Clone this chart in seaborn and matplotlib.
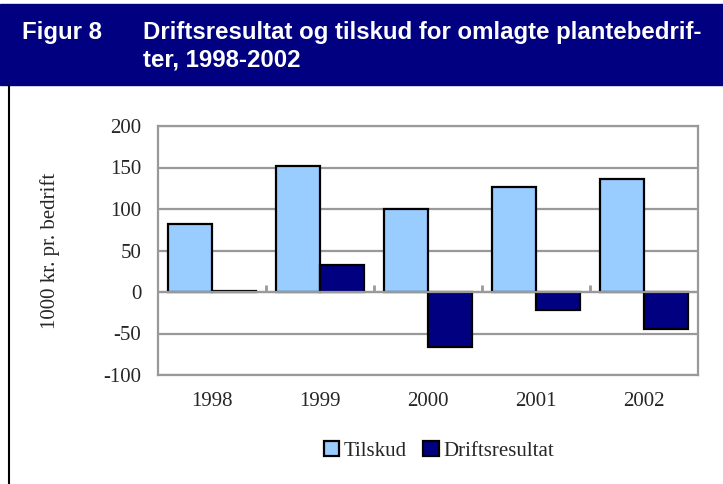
import pandas as pd
import seaborn as sns
import matplotlib.pyplot as plt
from matplotlib.patches import Rectangle
from matplotlib.lines import Line2D

# === Data ===
years = ['1998', '1999', '2000', '2001', '2002']
tilskud = [82, 152, 100, 127, 136]
driftsresultat = [1, 32, -66, -22, -45]
series_names = ['Tilskud', 'Driftsresultat']
colors = ['#99CCFF', '#000080']
y_ticks = [-100, -50, 0, 50, 100, 150, 200]

df = pd.DataFrame({
    'year': years * 2,
    'value': tilskud + driftsresultat,
    'serie': [series_names[0]] * len(years) + [series_names[1]] * len(years),
})

# === Figure ===
sns.set_style('white')
plt.rcParams['font.family'] = ['Liberation Serif', 'DejaVu Serif']

fig = plt.figure(figsize=(7.23, 4.84), dpi=100)
ax = fig.add_axes([158 / 723, 1 - 375 / 484, 540 / 723, 249 / 484])

sns.barplot(data=df, x='year', y='value', hue='serie', palette=colors,
            saturation=1, width=0.815, gap=0, edgecolor='black',
            linewidth=1.6, ax=ax, legend=True, zorder=3)

# === Axes styling ===
grid_c = '#999999'
ax.set_ylim(-100, 200)
ax.set_yticks(y_ticks)
ax.set_yticklabels([str(t) for t in y_ticks], fontsize=15)
ax.yaxis.grid(True, color=grid_c, linewidth=1.6, zorder=0)
ax.set_axisbelow(True)
ax.tick_params(axis='y', length=0, pad=12)
ax.tick_params(axis='x', length=0, pad=12, labelsize=15)
for s in ax.spines.values():
    s.set_color(grid_c)
    s.set_linewidth(1.6)
ax.set_xlabel('')
ax.set_ylabel('1000 kr. pr. bedrift', fontsize=15, labelpad=31)
ax.set_xlim(-0.5, len(years) - 0.5)

# zero line with category tick marks
ax.axhline(0, color=grid_c, linewidth=1.6, zorder=4)
for i in range(1, len(years)):
    ax.plot([i - 0.5, i - 0.5], [0, 8], color=grid_c, linewidth=2,
            zorder=4, solid_capstyle='butt')

# legend
leg = ax.legend(loc='upper center', bbox_to_anchor=(0.52, -0.19), ncol=2,
                frameon=False, fontsize=15, handlelength=0.75,
                handleheight=0.75, handletextpad=0.2, columnspacing=0.8)
for h in leg.legend_handles:
    h.set_edgecolor('black')
    h.set_linewidth(1.6)

# === Header band and frame ===
fig.patches.append(Rectangle((0, 1 - 85 / 484), 1, 81 / 484,
                             transform=fig.transFigure, color='#000080',
                             zorder=0))
fig.lines.append(Line2D([9 / 723, 9 / 723], [0, 1 - 85 / 484],
                        transform=fig.transFigure, color='black',
                        linewidth=1.5))
title_font = dict(family=['Liberation Sans', 'DejaVu Sans'],
                  weight='bold', color='white', fontsize=17.3)
fig.text(22 / 723, 1 - 32 / 484, 'Figur 8', va='center', ha='left',
         **title_font)
fig.text(143 / 723, 1 - 32 / 484,
         'Driftsresultat og tilskud for omlagte plantebedrif-',
         va='center', ha='left', **title_font)
fig.text(143 / 723, 1 - 60 / 484, 'ter, 1998-2002', va='center',
         ha='left', **title_font)

fig.savefig('out.png', dpi=100)
